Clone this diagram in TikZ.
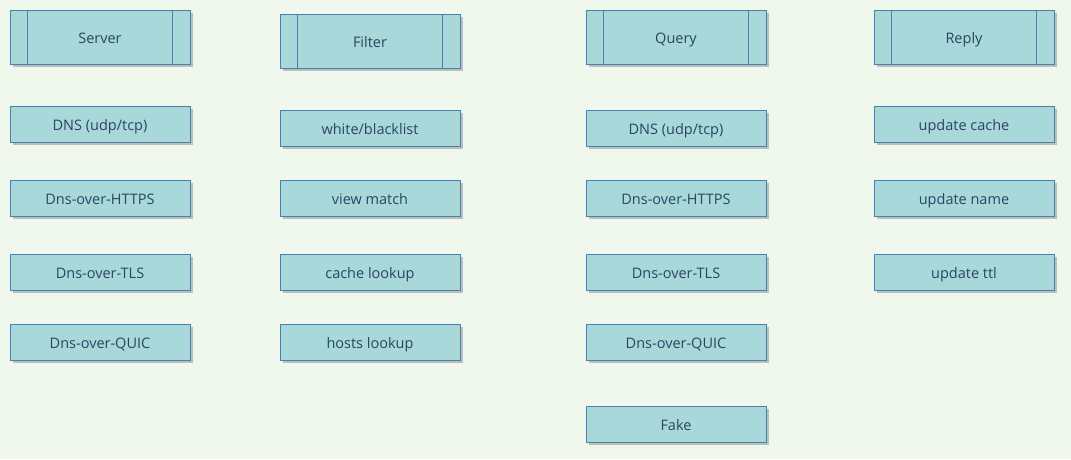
\documentclass[tikz,border=0pt]{standalone}
\usepackage{fontspec}
\setmainfont{Open Sans}
\usetikzlibrary{shadows}
\definecolor{bgc}{HTML}{F0F8EE}
\definecolor{boxfill}{HTML}{A8D8DA}
\definecolor{boxline}{HTML}{4A80B0}
\definecolor{txt}{HTML}{2A4562}
\begin{document}
\begin{tikzpicture}[x=1pt,y=-1pt,
  box/.style={draw=boxline, fill=boxfill, line width=0.9pt, minimum width=180pt, minimum height=36pt, inner sep=0pt,
    text=txt, font=\fontsize{14.5}{16}\selectfont, text height=14pt, text depth=1pt,
    drop shadow={shadow xshift=3pt, shadow yshift=-3pt, fill=black!40, opacity=0.6}},
  proc/.style={box, minimum height=54pt},
  bar/.style={draw=boxline, line width=0.9pt}]
\fill[bgc] (0,0) rectangle (1071,459);
\useasboundingbox (0,0) rectangle (1071,459);
% column 1
\node[proc] (server) at (100,37) {Server};
\draw[bar] ([xshift=18pt]server.north west) -- ([xshift=18pt]server.south west);
\draw[bar] ([xshift=-18pt]server.north east) -- ([xshift=-18pt]server.south east);
\node[box] (s1) at (100,124) {DNS (udp/tcp)};
\node[box] (s2) at (100,198) {Dns-over-HTTPS};
\node[box] (s3) at (100,272) {Dns-over-TLS};
\node[box] (s4) at (100,342) {Dns-over-QUIC};
% column 2
\node[proc] (filter) at (370,41) {Filter};
\draw[bar] ([xshift=18pt]filter.north west) -- ([xshift=18pt]filter.south west);
\draw[bar] ([xshift=-18pt]filter.north east) -- ([xshift=-18pt]filter.south east);
\node[box] (f1) at (370,128) {white/blacklist};
\node[box] (f2) at (370,198) {view match};
\node[box] (f3) at (370,272) {cache lookup};
\node[box] (f4) at (370,342) {hosts lookup};
% column 3
\node[proc] (query) at (676,37) {Query};
\draw[bar] ([xshift=18pt]query.north west) -- ([xshift=18pt]query.south west);
\draw[bar] ([xshift=-18pt]query.north east) -- ([xshift=-18pt]query.south east);
\node[box] (q1) at (676,128) {DNS (udp/tcp)};
\node[box] (q2) at (676,198) {Dns-over-HTTPS};
\node[box] (q3) at (676,272) {Dns-over-TLS};
\node[box] (q4) at (676,342) {Dns-over-QUIC};
\node[box] (q5) at (676,424) {Fake};
% column 4
\node[proc] (reply) at (964,37) {Reply};
\draw[bar] ([xshift=18pt]reply.north west) -- ([xshift=18pt]reply.south west);
\draw[bar] ([xshift=-18pt]reply.north east) -- ([xshift=-18pt]reply.south east);
\node[box] (r1) at (964,124) {update cache};
\node[box] (r2) at (964,198) {update name};
\node[box] (r3) at (964,272) {update ttl};
\end{tikzpicture}
\end{document}
